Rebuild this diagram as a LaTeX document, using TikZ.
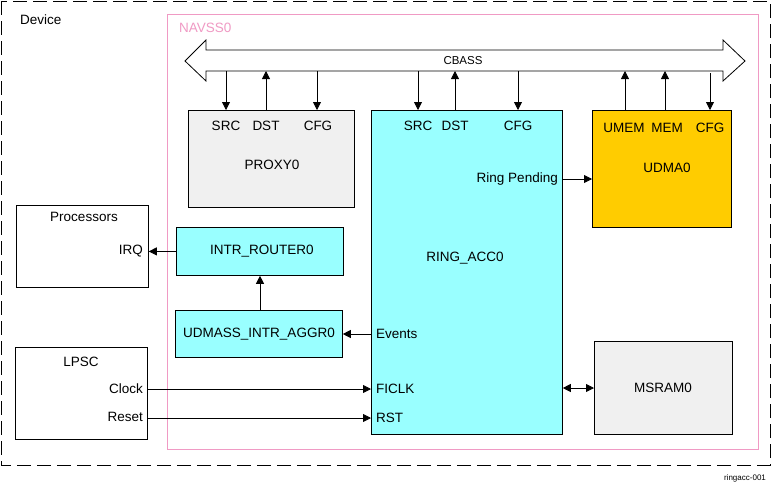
\documentclass[tikz,border=0pt]{standalone}
\usepackage{fontspec}
\setmainfont{Liberation Sans}
\usetikzlibrary{arrows.meta}
\definecolor{cyanbox}{HTML}{99FFFF}
\definecolor{graybox}{HTML}{F0F0F0}
\definecolor{orangebox}{HTML}{FFCC00}
\definecolor{navpink}{HTML}{F09AC4}
\tikzset{
  blk/.style={draw=black, line width=0.8pt, rectangle, anchor=north west, inner sep=0pt},
  lbl/.style={font=\fontsize{13.5}{15}\selectfont, inner sep=0pt},
  arr/.style={line width=0.8pt, -{Triangle[length=8pt,width=8pt]}},
  darr/.style={line width=0.8pt, {Triangle[length=8pt,width=8pt]}-{Triangle[length=8pt,width=8pt]}},
}
\begin{document}
\begin{tikzpicture}[x=1pt,y=-1pt]
\useasboundingbox (0,0) rectangle (772,483);
\fill[white] (0,0) rectangle (772,483);
% Device
\draw[line width=1pt, dash pattern=on 14pt off 6pt] (1,1) rectangle (770,465);
\node[lbl, anchor=west] (devlbl) at (20,20) {Device};
% NAVSS0
\draw[navpink, line width=0.8pt] (167,14) rectangle (758,449);
\node[lbl, anchor=west, text=navpink] (navlbl) at (179,28) {NAVSS0};
% CBASS bus
\draw[line width=0.8pt, fill=white] (185,61) -- (206,40) -- (206,50) -- (723,50) -- (723,40) -- (745,61) -- (723,81) -- (723,71) -- (206,71) -- (206,81) -- cycle;
\node[font=\fontsize{11.5}{13}\selectfont, inner sep=0pt] (cbass) at (463,61) {CBASS};
\coordinate (b1) at (226,71);
\coordinate (b2) at (266,71);
\coordinate (b3) at (317,71);
\coordinate (b4) at (418,71);
\coordinate (b5) at (455,71);
\coordinate (b6) at (518,71);
\coordinate (b7) at (625,71);
\coordinate (b8) at (665,71);
\coordinate (b9) at (710,71);
% PROXY0
\node[blk, fill=graybox, minimum width=166pt, minimum height=97pt] (proxy) at (188,110) {};
\node[lbl] (psrc) at (226,126) {SRC};
\node[lbl] (pdst) at (266,126) {DST};
\node[lbl] (pcfg) at (318,126) {CFG};
\node[lbl] (proxylbl) at (272,165) {PROXY0};
% RING_ACC0
\node[blk, fill=cyanbox, minimum width=191pt, minimum height=324pt] (ring) at (371,110) {};
\node[lbl] (rsrc) at (418,126) {SRC};
\node[lbl] (rdst) at (455,126) {DST};
\node[lbl] (rcfg) at (518,126) {CFG};
\node[lbl] (ringlbl) at (465,258) {RING\_ACC0};
\node[lbl, anchor=east] (rpend) at (558,179) {Ring Pending};
\node[lbl, anchor=west] (revents) at (376,334) {Events};
\node[lbl, anchor=west] (rficlk) at (376,389) {FICLK};
\node[lbl, anchor=west] (rrst) at (376,418) {RST};
% UDMA0
\node[blk, fill=orangebox, minimum width=139pt, minimum height=117pt] (udma) at (592,110) {};
\node[lbl] (umem) at (624,128) {UMEM};
\node[lbl] (mem) at (667,128) {MEM};
\node[lbl] (ucfg) at (710,128) {CFG};
\node[lbl] (udmalbl) at (667,168) {UDMA0};
% MSRAM0
\node[blk, fill=graybox, minimum width=138pt, minimum height=93pt] (msram) at (594,341) {};
\node[lbl] (msramlbl) at (663,388) {MSRAM0};
% Processors
\node[blk, minimum width=132pt, minimum height=82pt] (proc) at (16,205) {};
\node[lbl] (proclbl) at (84,217) {Processors};
\node[lbl, anchor=east] (irq) at (143,251) {IRQ};
% INTR_ROUTER0
\node[blk, fill=cyanbox, minimum width=167pt, minimum height=48pt] (router) at (176,227) {};
\node[lbl] (routerlbl) at (262,251) {INTR\_ROUTER0};
% UDMASS_INTR_AGGR0
\node[blk, fill=cyanbox, minimum width=167pt, minimum height=47pt] (aggr) at (175,310) {};
\node[lbl] (aggrlbl) at (259,334) {UDMASS\_INTR\_AGGR0};
% LPSC
\node[blk, minimum width=132pt, minimum height=92pt] (lpsc) at (15,347) {};
\node[lbl] (lpsclbl) at (81,362) {LPSC};
\node[lbl, anchor=east] (clock) at (143,389) {Clock};
\node[lbl, anchor=east] (reset) at (143,417) {Reset};
% ringacc label
\node[font=\fontsize{8}{9}\selectfont, inner sep=0pt] (tag) at (745,478) {ringacc-001};
% bus connectors
\draw[arr] (b1) -- (b1 |- proxy.north);
\draw[arr] (b2 |- proxy.north) -- (b2);
\draw[arr] (b3) -- (b3 |- proxy.north);
\draw[arr] (b4) -- (b4 |- ring.north);
\draw[arr] (b5 |- ring.north) -- (b5);
\draw[arr] (b6) -- (b6 |- ring.north);
\draw[arr] (b7 |- udma.north) -- (b7);
\draw[arr] (b8 |- udma.north) -- (b8);
\draw[arr] ([yshift=-2pt]b9) -- (b9 |- udma.north);
% other connectors
\draw[arr] (ring.east |- rpend) -- (udma.west |- rpend);
\draw[darr] (ring.east |- msramlbl) -- (msram.west |- msramlbl);
\draw[arr] (router.west) -- (proc.east |- router.west);
\draw[arr] (aggr.north -| 260,0) -- (router.south -| 260,0);
\draw[arr] (ring.west |- revents) -- (aggr.east |- revents);
\draw[arr] (lpsc.east |- rficlk) -- (ring.west |- rficlk);
\draw[arr] (lpsc.east |- rrst) -- (ring.west |- rrst);
\end{tikzpicture}
\end{document}
